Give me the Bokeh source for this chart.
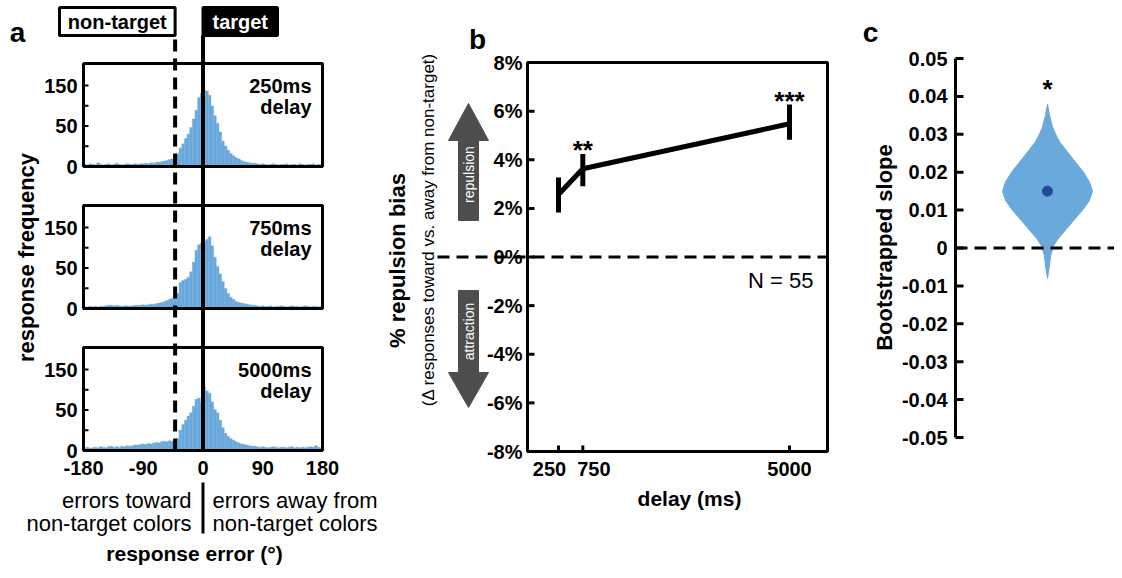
import numpy as np
from bokeh.plotting import figure
from bokeh.models import Range1d
from bokeh.layouts import row
from bokeh.embed import file_html
from bokeh.resources import INLINE
from bokeh.core.properties import value

# ---------------- data ----------------
# panel a: histograms of response error (4 degree bins), in displayed axis units
hist_bin_edges = list(range(-180, 181, 4))
delay_labels = ["250ms", "750ms", "5000ms"]
hist_250 = [4, 3, 5, 4, 3, 7, 4, 3, 4, 5, 3, 4, 6, 4, 3, 4, 5, 4, 4, 5,
            4, 5, 5, 6, 5, 7, 6, 8, 8, 9,
            10, 11, 13, 14, 17,
            23, 34, 42, 52, 60, 72, 88, 104, 128, 136,
            141, 140, 132, 112, 94, 80, 64, 47, 38, 30,
            24, 20, 16, 14, 11, 9, 8, 7, 6, 6,
            5, 4, 5, 4, 3, 4, 5, 4, 3, 4, 4, 5, 3, 4, 4, 3, 5, 4, 3, 4, 4, 5, 3, 4, 3]
hist_750 = [3, 3, 4, 3, 4, 3, 4, 4, 5, 6, 6, 5, 6, 5, 4, 5, 5, 4, 5, 6,
            6, 6, 7, 6, 7, 8, 8, 9, 10, 11,
            13, 15, 17, 19, 20,
            28, 48, 52, 54, 58, 68, 86, 108, 118, 121,
            124, 128, 133, 116, 95, 78, 64, 50, 37, 28,
            21, 17, 13, 11, 10, 9, 8, 7, 6, 6,
            5, 4, 5, 4, 4, 5, 3, 4, 4, 5, 4, 3, 4, 5, 4, 4, 3, 4, 5, 4, 3, 4, 4, 3, 4]
hist_5000 = [5, 6, 4, 5, 6, 5, 7, 6, 5, 7, 8, 6, 7, 6, 8, 7, 9, 8, 9, 10,
             10, 11, 12, 11, 13, 12, 14, 15, 14, 16,
             17, 16, 18, 17, 19,
             22, 38, 48, 56, 64, 70, 82, 95, 97, 88,
             118, 110, 106, 90, 76, 70, 56, 42, 32, 26,
             22, 19, 16, 14, 12, 11, 10, 9, 8, 8,
             7, 6, 7, 6, 5, 6, 7, 6, 5, 6, 6, 5, 6, 7, 5, 6, 5, 6, 5, 6, 7, 6, 9, 6, 5]
nontarget_deg = -42
target_deg = 0
hist_xticks = [-180, -90, 0, 90, 180]
hist_yticks = [0, 37.5, 75, 112.5, 150]
hist_ytick_labels = ["0", "", "50", "", "150"]

# panel b: repulsion bias vs delay
delay_ms = [250, 750, 5000]
bias_mean = [2.57, 3.63, 5.48]
bias_lo = [1.83, 2.91, 4.82]
bias_hi = [3.27, 4.24, 6.27]
bias_stars = ["", "**", "***"]
bias_yticks = [-8, -6, -4, -2, 0, 2, 4, 6, 8]
bias_ytick_labels = [f"{v}%" for v in bias_yticks]
n_subjects = 55

# panel c: bootstrapped slope distribution (violin)
slope_grid = [0.038, 0.035, 0.032, 0.030, 0.028, 0.026, 0.0233, 0.020, 0.0175, 0.015,
              0.0125, 0.010, 0.0075, 0.005, 0.0025, 0.0005, -0.002, -0.005, -0.008]
slope_density = [0.0, 0.045, 0.11, 0.18, 0.27, 0.40, 0.58, 0.80, 0.93, 1.0,
                 0.93, 0.78, 0.60, 0.42, 0.24, 0.13, 0.07, 0.04, 0.0]
slope_mean = 0.015
slope_star = "*"
slope_yticks = [-0.05, -0.04, -0.03, -0.02, -0.01, 0.0, 0.01, 0.02, 0.03, 0.04, 0.05]
slope_ytick_labels = ["0" if v == 0 else f"{v:.2f}" for v in slope_yticks]

# ---------------- styling ----------------
BLUE = "#6aa9db"
DOT = "#22489a"
GRAY = "#4d4d4d"
FONT = "Liberation Sans"
H = 570


def lin(v0, p0, v1, p1):
    s = (v1 - v0) / (p1 - p0)
    return (lambda p: v0 + (p - p0) * s), s


def make_fig(x0, x1, xf, yf):
    p = figure(width=x1 - x0, height=H,
               x_range=Range1d(xf(x0), xf(x1)), y_range=Range1d(yf(H), yf(0)),
               x_axis_location=None, y_axis_location=None, toolbar_location=None,
               output_backend="svg", min_border=0, title=None,
               outline_line_color=None, tools="")
    p.xgrid.grid_line_color = None
    p.ygrid.grid_line_color = None
    return p


def txt(p, x, y, text, size, bold=False, color="black", align="center",
        baseline="middle", angle=0.0, x_offset=0):
    p.text(x=x, y=y, text=text, text_font=value(FONT),
           text_font_size=value(f"{size}px"),
           text_font_style="bold" if bold else "normal",
           text_color=color, text_align=align, text_baseline=baseline,
           angle=angle, x_offset=x_offset)


# ================= panel a =================
xa, sxa = lin(-180, 83, 180, 322)
ya, sya = lin(0, 450, 150, 369)
pa = make_fig(0, 385, xa, ya)

panel_base_px = [166, 308, 450]
box_h_px = 103
edges = hist_bin_edges
for counts, base_px, lab in zip([hist_250, hist_750, hist_5000], panel_base_px, delay_labels):
    off = ya(base_px)
    top = ya(base_px - box_h_px)
    pa.quad(left=edges[:-1], right=edges[1:], bottom=off,
            top=[off + c for c in counts], fill_color=BLUE, line_color=BLUE, line_width=0.4)
    pa.quad(left=[hist_xticks[0]], right=[hist_xticks[-1]], bottom=[off], top=[top],
            fill_color=None, line_color="black", line_width=3)
    tys = [off + t for t in hist_yticks]
    pa.segment(x0=[hist_xticks[0]] * len(tys), y0=tys, x1=[xa(88)] * len(tys), y1=tys,
               line_color="black", line_width=2)
    lt = [off + t for t, l in zip(hist_yticks, hist_ytick_labels) if l]
    ll = [l for l in hist_ytick_labels if l]
    txt(pa, [xa(77)] * len(lt), lt, ll, 20, True, align="right")
    txt(pa, [xa(311)], [ya(base_px - box_h_px + 22)], [lab], 20, True, align="right")
    txt(pa, [xa(311)], [ya(base_px - box_h_px + 43)], ["delay"], 20, True, align="right")

# reference lines
pa.segment(x0=[nontarget_deg], y0=[ya(450)], x1=[nontarget_deg], y1=[ya(35)],
           line_color="black", line_width=4, line_dash="12 7")
pa.segment(x0=[target_deg], y0=[ya(450)], x1=[target_deg], y1=[ya(35)],
           line_color="black", line_width=4)
# header boxes
pa.quad(left=[xa(59)], right=[nontarget_deg], bottom=[ya(35)], top=[ya(7)],
        fill_color="white", line_color="black", line_width=3)
txt(pa, [(xa(59) + nontarget_deg) / 2], [ya(21)], ["non-target"], 20, True)
pa.quad(left=[target_deg], right=[xa(277)], bottom=[ya(35)], top=[ya(7)],
        fill_color="black", line_color="black", line_width=3)
txt(pa, [(target_deg + xa(277)) / 2], [ya(21)], ["target"], 20, True, color="white")
# x tick labels
txt(pa, hist_xticks, [ya(467)] * len(hist_xticks), [str(v) for v in hist_xticks], 20, True)
# toward / away captions
pa.segment(x0=[target_deg], y0=[ya(482)], x1=[target_deg], y1=[ya(533)],
           line_color="black", line_width=3)
txt(pa, [xa(191)] * 2, [ya(500), ya(523)], ["errors toward", "non-target colors"], 22, align="right")
txt(pa, [xa(212)] * 2, [ya(500), ya(523)], ["errors away from", "non-target colors"], 22, align="left")
txt(pa, [xa(194)], [ya(553)], ["response error (°)"], 21, True)
txt(pa, [xa(26)], [ya(257)], ["response frequency"], 22, True, angle=np.pi / 2)
txt(pa, [xa(17)], [ya(32)], ["a"], 28, True)

# ================= panel b =================
xb, sxb = lin(250, 558, 5000, 789)
yb, syb = lin(-8, 451, 8, 62)
pb = make_fig(385, 848, xb, yb)

ymin, ymax = bias_yticks[0], bias_yticks[-1]
pb.quad(left=[xb(527)], right=[xb(827)], bottom=[ymin], top=[ymax],
        fill_color=None, line_color="black", line_width=3)
pb.segment(x0=[xb(437)], y0=[0], x1=[xb(827)], y1=[0],
           line_color="black", line_width=3, line_dash="12 7")
pb.segment(x0=[xb(527)] * len(bias_yticks), y0=bias_yticks,
           x1=[xb(534)] * len(bias_yticks), y1=bias_yticks, line_color="black", line_width=3)
txt(pb, [xb(522)] * len(bias_yticks), bias_yticks, bias_ytick_labels, 20, True, align="right")
pb.segment(x0=delay_ms, y0=[ymin] * 3, x1=delay_ms, y1=[yb(445)] * 3,
           line_color="black", line_width=3)
txt(pb, delay_ms, [yb(468)] * 3, [str(d) for d in delay_ms], 20, True, x_offset=[-9, 11, 0])
pb.line(delay_ms, bias_mean, line_color="black", line_width=5)
pb.segment(x0=delay_ms, y0=bias_lo, x1=delay_ms, y1=bias_hi, line_color="black", line_width=5)
txt(pb, delay_ms, [h - 4 * syb for h in bias_hi], bias_stars, 26, True)
txt(pb, [xb(813)], [yb(280)], [f"N = {n_subjects}"], 22, align="right")
# arrows
pb.patch([xb(v) for v in [458, 458, 448, 468, 488, 478, 478]],
         [yb(v) for v in [220, 140, 140, 103, 140, 140, 220]], fill_color=GRAY, line_color=GRAY)
pb.patch([xb(v) for v in [458, 458, 448, 468, 488, 478, 478]],
         [yb(v) for v in [290, 372, 372, 407, 372, 372, 290]], fill_color=GRAY, line_color=GRAY)
txt(pb, [xb(468)], [yb(174)], ["repulsion"], 14, color="white", angle=np.pi / 2)
txt(pb, [xb(468)], [yb(331)], ["attraction"], 14, color="white", angle=np.pi / 2)
txt(pb, [xb(397)], [yb(260)], ["% repulsion bias"], 22, True, angle=np.pi / 2)
txt(pb, [xb(428)], [yb(229)], ["(Δ responses toward vs. away from non-target)"], 17, angle=np.pi / 2)
txt(pb, [xb(689)], [yb(498)], ["delay (ms)"], 21, True)
txt(pb, [xb(477)], [yb(39)], ["b"], 28, True)

# ================= panel c =================
xc, sxc = lin(0, 947, 1, 1047)
yc, syc = lin(-0.05, 437, 0.05, 58)
pc = make_fig(848, 1114, xc, yc)

hw = 45 * sxc
vx = [1 - hw * d for d in slope_density] + [1 + hw * d for d in slope_density[::-1]]
vy = slope_grid + slope_grid[::-1]
pc.patch(vx, vy, fill_color=BLUE, line_color=BLUE, line_width=1)
pc.segment(x0=[xc(955)], y0=[0], x1=[xc(1114)], y1=[0],
           line_color="black", line_width=3, line_dash="12 7")
pc.scatter([1], [slope_mean], size=10, fill_color=DOT, line_color=DOT)
pc.segment(x0=[xc(955)], y0=[slope_yticks[0]], x1=[xc(955)], y1=[slope_yticks[-1]],
           line_color="black", line_width=3)
pc.segment(x0=[xc(955)] * len(slope_yticks), y0=slope_yticks,
           x1=[xc(963)] * len(slope_yticks), y1=slope_yticks, line_color="black", line_width=3)
txt(pc, [xc(947)] * len(slope_yticks), slope_yticks, slope_ytick_labels, 20, True, align="right")
txt(pc, [1], [max(slope_grid) - 14.5 * syc], [slope_star], 26, True)
txt(pc, [xc(884)], [yc(247)], ["Bootstrapped slope"], 22, True, angle=np.pi / 2)
txt(pc, [xc(870)], [yc(32)], ["c"], 28, True)

layout = row(pa, pb, pc)
open("out.html", "w").write(file_html(layout, INLINE))
